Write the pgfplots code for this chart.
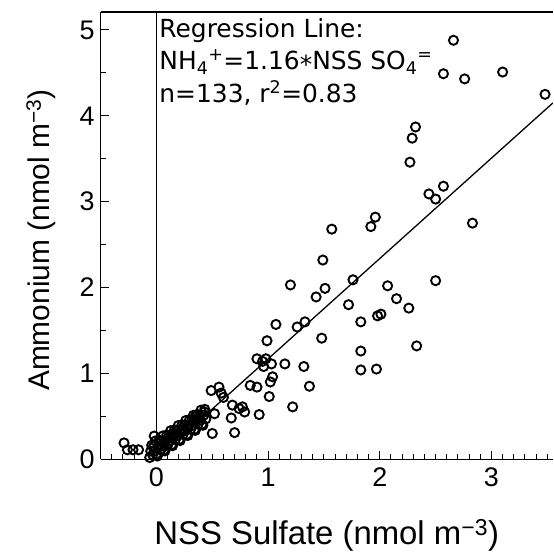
\documentclass[border=0pt]{standalone}
\usepackage{fontspec}
\setmainfont{Liberation Sans}
\newfontfamily\notefont{DejaVu Sans}
\usepackage{pgfplots}
\pgfplotsset{compat=1.18}

\begin{document}
\begin{tikzpicture}
\begin{axis}[
    scale only axis,
    width=454pt, height=449pt,
    xmin=-0.5, xmax=3.55,
    ymin=0, ymax=5.21,
    axis y line*=left,
    xtick pos=bottom,
    xtick={0,1,2,3},
    ytick={0,1,2,3,4,5},
    minor xtick={-0.4,-0.3,-0.2,-0.1,0.1,0.2,0.3,0.4,0.5,0.6,0.7,0.8,0.9,1.1,1.2,1.3,1.4,1.5,1.6,1.7,1.8,1.9,2.1,2.2,2.3,2.4,2.5,2.6,2.7,2.8,2.9,3.1,3.2,3.3,3.4,3.5},
    minor ytick={0.5,1.5,2.5,3.5,4.5},
    tick align=inside,
    major tick length=8pt,
    minor tick length=5pt,
    tick style={black, line width=1pt},
    axis line style={line width=1.2pt},
    /pgf/number format/assume math mode=true,
    ticklabel style={font=\fontsize{27}{28}\selectfont},
    xticklabel style={yshift=-5pt},
    yticklabel style={xshift=-2.5pt},
    xlabel={NSS Sulfate (nmol m\textsuperscript{−3})},
    ylabel={Ammonium (nmol m\textsuperscript{−3})},
    xlabel style={font=\fontsize{33}{36}\selectfont,
                  at={(axis description cs:0.5,-0.1915)}, anchor=base},
    ylabel style={font=\fontsize{30}{32}\selectfont,
                  at={(axis description cs:-0.1123,0.49)}, anchor=base},
    clip=true,
]
% vertical reference line at zero
\addplot[black, line width=1pt] coordinates {(0,0) (0,5.21)};
% regression line
\addplot[black, line width=1.3pt] coordinates {(0,0) (3.55,4.15)};
% observations
\addplot[only marks, mark=o, mark size=4.6pt, black,
         mark options={line width=1.9pt, solid}] coordinates {
(2.66,4.88) (2.57,4.49) (2.76,4.43) (3.10,4.51) (3.48,4.25)
(2.32,3.87) (2.29,3.74) (2.27,3.46) (2.57,3.18) (2.44,3.09)
(2.50,3.03) (1.96,2.82) (1.92,2.71) (1.57,2.68) (2.83,2.75)
(1.49,2.32) (1.20,2.03) (1.51,1.99) (1.43,1.89) (1.76,2.09)
(2.07,2.02) (2.15,1.87) (2.26,1.76) (2.50,2.08) (1.72,1.80)
(1.98,1.67) (2.01,1.69) (1.83,1.60) (1.33,1.60) (1.26,1.54)
(1.07,1.57) (1.48,1.41) (0.99,1.38) (1.83,1.26) (2.33,1.32)
(1.83,1.04) (1.97,1.05) (0.90,1.17) (0.95,1.14) (0.98,1.17)
(0.96,1.08) (1.03,1.11) (1.15,1.11) (1.32,1.08) (1.04,0.96)
(1.02,0.90) (0.84,0.86) (0.90,0.84) (1.37,0.85) (1.01,0.73)
(0.49,0.80) (0.56,0.84) (0.58,0.77) (0.60,0.72) (1.22,0.61)
(0.92,0.52) (0.68,0.63) (0.74,0.59) (0.77,0.61) (0.79,0.55)
(0.67,0.48) (0.70,0.31) (0.50,0.30) (0.52,0.53) (0.43,0.55)
(0.35,0.50) (0.38,0.48) (0.15,0.30) (-0.29,0.19) (-0.26,0.11)
(-0.21,0.11) (-0.16,0.11) (-0.02,0.27)
(-0.060,0.020) (-0.051,0.095) (-0.043,0.162) (-0.034,0.050) (-0.026,0.147)
(-0.017,0.095) (-0.009,0.212) (0.000,0.050) (0.008,0.037) (0.017,0.155)
(0.025,0.222) (0.034,0.110) (0.042,0.207) (0.051,0.155) (0.059,0.272)
(0.068,0.110) (0.076,0.097) (0.085,0.215) (0.093,0.282) (0.102,0.170)
(0.110,0.267) (0.119,0.215) (0.127,0.332) (0.136,0.170) (0.144,0.157)
(0.153,0.275) (0.161,0.342) (0.170,0.230) (0.178,0.327) (0.187,0.275)
(0.195,0.392) (0.204,0.230) (0.212,0.217) (0.221,0.334) (0.229,0.402)
(0.238,0.289) (0.246,0.387) (0.255,0.334) (0.263,0.451) (0.272,0.289)
(0.280,0.276) (0.289,0.394) (0.297,0.461) (0.306,0.349) (0.314,0.446)
(0.323,0.394) (0.331,0.511) (0.340,0.349) (0.348,0.336) (0.357,0.454)
(0.365,0.521) (0.374,0.409) (0.382,0.506) (0.391,0.454) (0.399,0.571)
(0.408,0.409) (0.416,0.396) (0.425,0.514) (0.433,0.581) (0.442,0.469)
};
\node[anchor=north west, align=left, inner sep=0pt,
      font=\notefont\fontsize{25}{33}\selectfont]
  at (axis cs:0.025,5.14)
  {Regression Line:\\
   NH\textsubscript{4}\textsuperscript{+}=1.16\raisebox{-0.25ex}{*}NSS SO\textsubscript{4}\textsuperscript{=}\\
   n=133, r\textsuperscript{2}=0.83};
\coordinate (tl) at (rel axis cs:0,1);
\coordinate (br) at (rel axis cs:1,0);
\end{axis}
\path (tl) ++(-101pt,12pt);
\path (br) ++(0pt,-89pt);
\end{tikzpicture}
\end{document}
